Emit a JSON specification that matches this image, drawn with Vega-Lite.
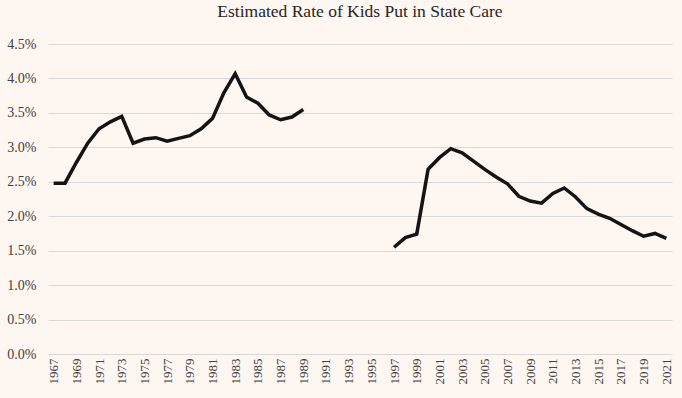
{
  "$schema": "https://vega.github.io/schema/vega-lite/v6.json",
  "width": 624,
  "height": 310,
  "autosize": {"type": "none"},
  "padding": {"left": 48, "top": 44, "right": 10, "bottom": 44},
  "background": "#fdf6f1",
  "config": {
    "view": {"stroke": null},
    "font": "Liberation Serif",
    "axis": {"labelFont": "Liberation Serif", "labelFontSize": 14, "labelColor": "#404040", "domain": false, "ticks": false},
    "axisX": {"labelFontSize": 13, "labelPadding": 4},
    "axisY": {"labelFontSize": 14, "labelPadding": 12}
  },
  "title": {
    "text": "Estimated Rate of Kids Put in State Care",
    "font": "Liberation Serif",
    "fontSize": 17.5,
    "fontWeight": "normal",
    "color": "#262626",
    "anchor": "middle",
    "offset": 17
  },
  "data": {
    "values": [
      {"year": 1967, "rate": 2.48, "period": "a"},
      {"year": 1968, "rate": 2.48, "period": "a"},
      {"year": 1969, "rate": 2.78, "period": "a"},
      {"year": 1970, "rate": 3.06, "period": "a"},
      {"year": 1971, "rate": 3.27, "period": "a"},
      {"year": 1972, "rate": 3.37, "period": "a"},
      {"year": 1973, "rate": 3.45, "period": "a"},
      {"year": 1974, "rate": 3.06, "period": "a"},
      {"year": 1975, "rate": 3.12, "period": "a"},
      {"year": 1976, "rate": 3.14, "period": "a"},
      {"year": 1977, "rate": 3.09, "period": "a"},
      {"year": 1978, "rate": 3.13, "period": "a"},
      {"year": 1979, "rate": 3.17, "period": "a"},
      {"year": 1980, "rate": 3.27, "period": "a"},
      {"year": 1981, "rate": 3.42, "period": "a"},
      {"year": 1982, "rate": 3.79, "period": "a"},
      {"year": 1983, "rate": 4.07, "period": "a"},
      {"year": 1984, "rate": 3.73, "period": "a"},
      {"year": 1985, "rate": 3.64, "period": "a"},
      {"year": 1986, "rate": 3.47, "period": "a"},
      {"year": 1987, "rate": 3.40, "period": "a"},
      {"year": 1988, "rate": 3.44, "period": "a"},
      {"year": 1989, "rate": 3.55, "period": "a"},
      {"year": 1997, "rate": 1.55, "period": "b"},
      {"year": 1998, "rate": 1.69, "period": "b"},
      {"year": 1999, "rate": 1.74, "period": "b"},
      {"year": 2000, "rate": 2.68, "period": "b"},
      {"year": 2001, "rate": 2.85, "period": "b"},
      {"year": 2002, "rate": 2.98, "period": "b"},
      {"year": 2003, "rate": 2.92, "period": "b"},
      {"year": 2004, "rate": 2.80, "period": "b"},
      {"year": 2005, "rate": 2.68, "period": "b"},
      {"year": 2006, "rate": 2.57, "period": "b"},
      {"year": 2007, "rate": 2.47, "period": "b"},
      {"year": 2008, "rate": 2.29, "period": "b"},
      {"year": 2009, "rate": 2.22, "period": "b"},
      {"year": 2010, "rate": 2.19, "period": "b"},
      {"year": 2011, "rate": 2.33, "period": "b"},
      {"year": 2012, "rate": 2.41, "period": "b"},
      {"year": 2013, "rate": 2.28, "period": "b"},
      {"year": 2014, "rate": 2.11, "period": "b"},
      {"year": 2015, "rate": 2.03, "period": "b"},
      {"year": 2016, "rate": 1.97, "period": "b"},
      {"year": 2017, "rate": 1.88, "period": "b"},
      {"year": 2018, "rate": 1.79, "period": "b"},
      {"year": 2019, "rate": 1.71, "period": "b"},
      {"year": 2020, "rate": 1.75, "period": "b"},
      {"year": 2021, "rate": 1.68, "period": "b"}
    ]
  },
  "mark": {"type": "line", "color": "#141414", "strokeWidth": 3.5, "strokeJoin": "miter", "strokeCap": "butt"},
  "encoding": {
    "x": {
      "field": "year",
      "type": "quantitative",
      "scale": {"domain": [1966.5, 2021.5], "nice": false, "zero": false},
      "axis": {
        "title": null,
        "grid": false,
        "domain": false,
        "ticks": false,
        "values": [1967,1969,1971,1973,1975,1977,1979,1981,1983,1985,1987,1989,1991,1993,1995,1997,1999,2001,2003,2005,2007,2009,2011,2013,2015,2017,2019,2021],
        "format": "d",
        "labelFont": "Liberation Serif",
        "labelFontSize": 13,
        "labelColor": "#404040",
        "labelAngle": -90,
        "labelPadding": 4,
        "labelOverlap": false
      }
    },
    "y": {
      "field": "rate",
      "type": "quantitative",
      "scale": {"domain": [0, 4.5], "nice": false},
      "axis": {
        "title": null,
        "domain": false,
        "ticks": false,
        "values": [0, 0.5, 1, 1.5, 2, 2.5, 3, 3.5, 4, 4.5],
        "labelExpr": "format(datum.value, '.1f') + '%'",
        "labelFont": "Liberation Serif",
        "labelFontSize": 14,
        "labelColor": "#404040",
        "labelPadding": 12,
        "gridColor": "#d9d9d9",
        "gridWidth": 1
      }
    },
    "detail": {"field": "period", "type": "nominal"}
  }
}
